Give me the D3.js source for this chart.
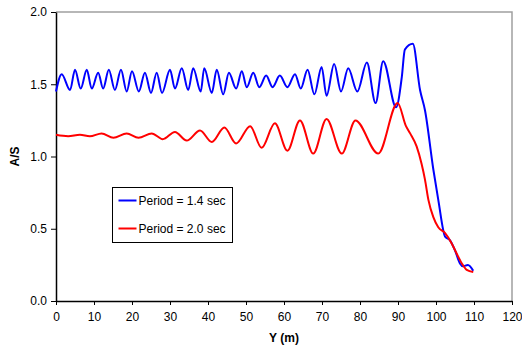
<!DOCTYPE html>
<html>
<head>
<meta charset="utf-8">
<script src="https://cdn.jsdelivr.net/npm/d3@7"></script>
<style>
  body { margin: 0; background: #fff; }
  svg { display: block; font-family: "Liberation Sans", Arial, sans-serif; }
</style>
</head>
<body>
<div id="chart"></div>
<script>
// ---- data ----
const xTicks = [0, 10, 20, 30, 40, 50, 60, 70, 80, 90, 100, 110, 120];
const yTicks = [0.0, 0.5, 1.0, 1.5, 2.0];
const seriesNames = ["Period = 1.4 sec", "Period = 2.0 sec"];
const seriesColors = ["#0000ff", "#ff0000"];

// Period = 1.4 sec : [Y (m), A/S]
const blueData = [
  [0, 1.45], [1.5, 1.57], [3.7, 1.46], [5.0, 1.60], [6.5, 1.47], [8.1, 1.60],
  [9.4, 1.47], [11.1, 1.58], [12.4, 1.47], [13.9, 1.60], [15.5, 1.46], [17.1, 1.60],
  [18.6, 1.45], [20.0, 1.59], [21.8, 1.45], [23.4, 1.58], [25.0, 1.44], [26.5, 1.58],
  [27.9, 1.44], [30.0, 1.60], [31.3, 1.47], [33.1, 1.61], [34.8, 1.46], [36.1, 1.61],
  [38.1, 1.45], [39.0, 1.61], [41.0, 1.44], [42.3, 1.60], [44.0, 1.43], [45.5, 1.58],
  [47.4, 1.47], [48.9, 1.59], [50.2, 1.48], [51.9, 1.58], [53.5, 1.48], [55.3, 1.56],
  [57.0, 1.48], [58.9, 1.56], [60.9, 1.48], [62.9, 1.57], [64.4, 1.47], [66.2, 1.60],
  [68.0, 1.43], [69.9, 1.62], [71.2, 1.42], [73.2, 1.64], [75.0, 1.45], [76.9, 1.61],
  [79.3, 1.45], [81.8, 1.65], [84.1, 1.37], [86.1, 1.66], [89.5, 1.34], [91.0, 1.55],
  [91.8, 1.74], [93.9, 1.78], [95.8, 1.46], [97.1, 1.32], [99.3, 0.91], [100.6, 0.70],
  [102.4, 0.445], [103.7, 0.42], [105.0, 0.35], [106.3, 0.26], [107.1, 0.24],
  [108.4, 0.25], [109.8, 0.21]
];

// Period = 2.0 sec : [Y (m), A/S]
const redData = [
  [0, 1.15], [3.2, 1.14], [6.3, 1.15], [8.9, 1.14], [12.0, 1.16], [15.1, 1.13], [18.6, 1.16],
  [21.7, 1.13], [25.2, 1.16], [28.1, 1.12], [31.3, 1.17], [34.4, 1.11], [37.9, 1.18],
  [41.0, 1.10], [44.3, 1.20], [47.4, 1.09], [51.1, 1.21], [54.1, 1.06], [57.6, 1.23],
  [60.9, 1.04], [64.2, 1.25], [67.7, 1.02], [71.2, 1.26], [75.2, 1.02], [78.8, 1.25],
  [84.8, 1.02], [89.9, 1.37], [92.1, 1.21], [93.2, 1.16], [94.9, 1.07], [96.2, 0.95],
  [97.1, 0.84], [98.0, 0.70], [99.3, 0.58], [100.6, 0.51], [102.4, 0.47],
  [104.1, 0.40], [105.4, 0.33], [106.8, 0.26], [108.1, 0.215], [109.8, 0.20]
];

// ---- layout ----
const W = 522, H = 350;
const m = { left: 56, right: 10, top: 12, bottom: 49 };
const FONT = "'Liberation Sans', Arial, sans-serif";

const svg = d3.select("#chart").append("svg")
  .attr("width", W).attr("height", H);

const x = d3.scaleLinear().domain([0, 120]).range([m.left, W - m.right]);
const y = d3.scaleLinear().domain([0, 2]).range([H - m.bottom, m.top]);

// plot frame (top / right gray)
svg.append("path")
  .attr("d", `M${x(0)},${y(2)}H${x(120)}V${y(0)}`)
  .attr("fill", "none")
  .attr("stroke", "#a0a0a0")
  .attr("stroke-width", 1.5);

// axes
const xAxis = svg.append("g")
  .attr("transform", `translate(0,${y(0)})`)
  .call(d3.axisBottom(x).tickValues(xTicks).tickSize(4).tickPadding(7).tickSizeOuter(0));
const yAxis = svg.append("g")
  .attr("transform", `translate(${x(0)},0)`)
  .call(d3.axisLeft(y).tickValues(yTicks).tickFormat(d3.format(".1f")).tickSize(5).tickPadding(4).tickSizeOuter(0));

[xAxis, yAxis].forEach(g => {
  g.selectAll("path.domain").attr("stroke", "#000").attr("stroke-width", 1.5);
  g.selectAll(".tick line").attr("stroke", "#000");
  g.selectAll(".tick text")
    .attr("fill", "#000")
    .style("font-family", FONT)
    .style("font-size", "12px");
});

// axis titles
svg.append("text")
  .attr("x", 284).attr("y", 342)
  .attr("text-anchor", "middle")
  .style("font-size", "12px").style("font-weight", "bold")
  .text("Y (m)");
svg.append("text")
  .attr("transform", `translate(19,${(y(0) + y(2)) / 2}) rotate(-90)`)
  .attr("text-anchor", "middle")
  .style("font-size", "12px").style("font-weight", "bold")
  .text("A/S");

// lines
const line = d3.line()
  .x(d => x(d[0]))
  .y(d => y(d[1]))
  .curve(d3.curveMonotoneX);

[blueData, redData].forEach((data, i) => {
  svg.append("path")
    .datum(data)
    .attr("d", line)
    .attr("fill", "none")
    .attr("stroke", seriesColors[i])
    .attr("stroke-width", 2)
    .attr("stroke-linejoin", "round");
});

// legend
const lg = svg.append("g").attr("transform", "translate(112.5,187.5)");
lg.append("rect")
  .attr("width", 120).attr("height", 55)
  .attr("fill", "#fff").attr("stroke", "#000").attr("stroke-width", 1);
seriesNames.forEach((name, i) => {
  const cy = 13 + i * 28;
  lg.append("line")
    .attr("x1", 6).attr("x2", 24).attr("y1", cy).attr("y2", cy)
    .attr("stroke", seriesColors[i]).attr("stroke-width", 2);
  lg.append("text")
    .attr("x", 26).attr("y", cy + 4)
    .style("font-size", "12px")
    .text(name);
});
</script>
</body>
</html>
